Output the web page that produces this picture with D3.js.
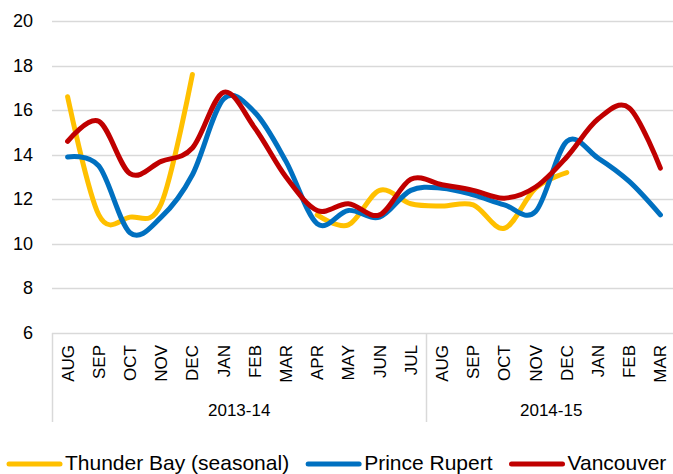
<!DOCTYPE html>
<html lang="en">
  <head>
    <meta charset="UTF-8" />
    <title>Monthly chart</title>
    <script src="https://cdn.jsdelivr.net/npm/d3@7"></script>
    <style>
      body { margin: 0; background: #fff; }
      text { font-family: "Liberation Sans", Arial, sans-serif; fill: #000; }
    </style>
  </head>
  <body>
    <script>
      const months = ["AUG", "SEP", "OCT", "NOV", "DEC", "JAN", "FEB", "MAR", "APR", "MAY", "JUN", "JUL",
                      "AUG", "SEP", "OCT", "NOV", "DEC", "JAN", "FEB", "MAR"];
      const years = [{ label: "2013-14", from: 0, to: 12 }, { label: "2014-15", from: 12, to: 20 }];
      const yTicks = [6, 8, 10, 12, 14, 16, 18, 20];

      const thunderBay = [16.6, 11.3, 11.2, 11.8, 17.6, null, null, null, 11.3, 10.85, 12.4, 11.8,
                          11.7, 11.75, 10.7, 12.5, 13.2, null, null, null];
      const princeRupert = [13.9, 13.5, 10.5, 11.2, 13.1, 16.5, 15.9, 13.7, 10.9, 11.5, 11.2, 12.4,
                            12.5, 12.2, 11.75, 11.45, 14.6, 13.85, 12.8, 11.3];
      const vancouver = [14.6, 15.5, 13.15, 13.7, 14.3, 16.8, 15.2, 13.0, 11.5, 11.8, 11.3, 12.9,
                         12.65, 12.4, 12.05, 12.55, 13.9, 15.6, 16.1, 13.4];

      const series = [
        { name: "Thunder Bay (seasonal)", values: thunderBay, color: "#FFC000" },
        { name: "Prince Rupert", values: princeRupert, color: "#0070C0" },
        { name: "Vancouver", values: vancouver, color: "#C00000" }
      ];

      const width = 673, height = 474;
      const svg = d3.select("body").append("svg")
        .attr("width", width)
        .attr("height", height);

      const x = d3.scaleBand()
        .domain(d3.range(months.length))
        .range([52, 676]);
      const y = d3.scaleLinear().domain([6, 20]).range([333, 21]);

      // gridlines
      svg.append("g")
        .selectAll("line")
        .data(yTicks)
        .enter()
        .append("line")
        .attr("x1", 52)
        .attr("x2", width)
        .attr("y1", d => Math.round(y(d)) + 0.5)
        .attr("y2", d => Math.round(y(d)) + 0.5)
        .attr("stroke", "#d9d9d9")
        .attr("stroke-width", 1.5);

      // y labels
      svg.append("g")
        .selectAll("text")
        .data(yTicks)
        .enter()
        .append("text")
        .attr("x", 33)
        .attr("y", d => y(d) + 6)
        .attr("text-anchor", "end")
        .style("font-size", "18px")
        .text(d => d);

      // separators for the year groups
      const seps = [0, 12];
      svg.append("g")
        .selectAll("line")
        .data(seps)
        .enter()
        .append("line")
        .attr("x1", d => Math.round(x(d)) + 0.5)
        .attr("x2", d => Math.round(x(d)) + 0.5)
        .attr("y1", 333)
        .attr("y2", 422)
        .attr("stroke", "#d9d9d9")
        .attr("stroke-width", 1.5);

      // month labels
      svg.append("g")
        .selectAll("text")
        .data(months)
        .enter()
        .append("text")
        .attr("transform", (d, i) => "translate(" + (x(i) + x.bandwidth() / 2 + 6) + ",345) rotate(-90)")
        .attr("text-anchor", "end")
        .style("font-size", "17px")
        .text(d => d);

      // year labels
      svg.append("g")
        .selectAll("text")
        .data(years)
        .enter()
        .append("text")
        .attr("x", d => (x(d.from) + x(d.to - 1) + x.bandwidth()) / 2)
        .attr("y", 416)
        .attr("text-anchor", "middle")
        .style("font-size", "17px")
        .text(d => d.label);

      // lines
      const line = d3.line()
        .defined(d => d != null)
        .x((d, i) => x(i) + x.bandwidth() / 2)
        .y(d => y(d))
        .curve(d3.curveCardinal.tension(0));

      svg.append("g")
        .selectAll("path")
        .data(series)
        .enter()
        .append("path")
        .attr("d", d => line(d.values))
        .attr("fill", "none")
        .attr("stroke", d => d.color)
        .attr("stroke-width", 5)
        .attr("stroke-linecap", "round")
        .attr("stroke-linejoin", "round");

      // legend
      const legend = svg.append("g");
      let lx = 7;
      series.forEach(function (s) {
        legend.append("line")
          .attr("x1", lx + 2)
          .attr("x2", lx + 53)
          .attr("y1", 464)
          .attr("y2", 464)
          .attr("stroke", s.color)
          .attr("stroke-width", 5)
          .attr("stroke-linecap", "round");
        let t = legend.append("text")
          .attr("x", lx + 58)
          .attr("y", 470)
          .style("font-size", "21px")
          .text(s.name);
        lx = lx + 58 + t.node().getComputedTextLength() + 17;
      });
    </script>
  </body>
</html>
